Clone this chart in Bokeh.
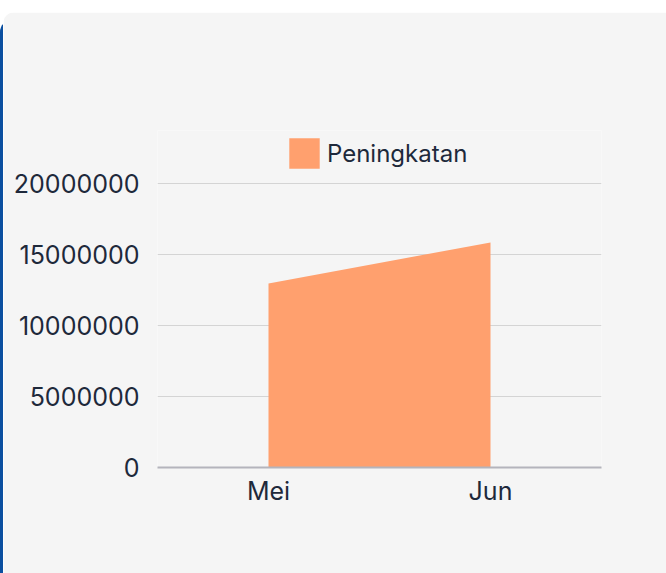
from bokeh.plotting import figure
from bokeh.models import FactorRange, Range1d, Legend, LegendItem, SingleIntervalTicker, NumeralTickFormatter
from bokeh.embed import file_html
from bokeh.resources import INLINE

months = ["Mei", "Jun"]
peningkatan = [12960000, 15850000]
series_name = "Peningkatan"
y_ticks_interval = 5000000

FONT = "Inter"
TXT = "#1e293b"
BG = "#f5f5f5"

p = figure(
    x_range=FactorRange(*months),
    y_range=Range1d(0, 23730000),
    frame_width=444, frame_height=337,
    min_border_left=154, min_border_right=65, min_border_top=118, min_border_bottom=106,
    output_backend="svg", toolbar_location=None,
    background_fill_color=BG, border_fill_color=BG, outline_line_color=None,
)
p.styles = {
    "margin-top": "12px",
    "margin-left": "3px",
    "border-top-left-radius": "12px",
    "overflow": "hidden",
    "box-shadow": "-3px 8px 0 0 #0b4fa0",
}

r = p.varea(x=months, y1=[0] * len(months), y2=peningkatan, fill_color="#ffa06e", fill_alpha=1.0)

p.yaxis.ticker = SingleIntervalTicker(interval=y_ticks_interval)
p.yaxis.formatter = NumeralTickFormatter(format="0")
p.yaxis.axis_line_color = None
p.xaxis.axis_line_color = "#b4b4bc"
p.xaxis.axis_line_width = 2
p.yaxis.major_label_standoff = 18
p.xaxis.major_label_standoff = 8
for ax in (p.xaxis, p.yaxis):
    ax.major_tick_line_color = None
    ax.minor_tick_line_color = None
    ax.major_tick_out = 0
    ax.major_tick_in = 0
    ax.minor_tick_out = 0
    ax.major_label_text_font = FONT
    ax.major_label_text_font_size = "25px"
    ax.major_label_text_color = TXT
p.xgrid.grid_line_color = None
p.ygrid.grid_line_color = "#d4d4d4"
p.ygrid.grid_line_width = 1
p.x_range.range_padding = 0

legend = Legend(items=[LegendItem(label=series_name, renderers=[r])],
                location=(128, 295), orientation="horizontal",
                background_fill_alpha=0, border_line_color=None,
                label_text_font=FONT, label_text_font_size="24px", label_text_color=TXT,
                glyph_width=38, glyph_height=38, label_standoff=4, padding=0, margin=0)
p.add_layout(legend, "center")

open("out.html", "w").write(file_html(p, INLINE))
